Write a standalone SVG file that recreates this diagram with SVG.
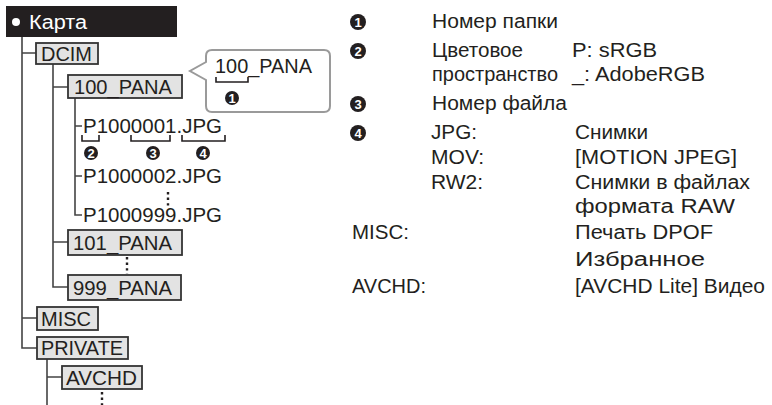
<svg xmlns="http://www.w3.org/2000/svg" width="772" height="405" viewBox="0 0 772 405">
<style>
  text { font-family: "Liberation Sans", Arial, sans-serif; font-size: 20px; fill: #231f20; }
  .box { fill: #e3e3e3; stroke: #333; stroke-width: 1.8; }
  .ln { fill: none; stroke: #444; stroke-width: 1.6; }
  .br { fill: none; stroke: #231f20; stroke-width: 1.6; }
  .dot { stroke: #231f20; stroke-width: 2.4; stroke-dasharray: 2.4 3.2; }
  .num { fill: #231f20; }
  .numt { font-family: "Liberation Sans", Arial, sans-serif; font-size: 13px; font-weight: bold; fill: #fff; text-anchor: middle; }
</style>
<rect width="772" height="405" fill="#fff"/>

<g id="connectors">
  <path class="ln" d="M22,37 V348 H37 M22,53 H36 M22,318 H37"/>
  <path class="ln" d="M53,64 V287 H68 M53,87 H68 M53,242 H68"/>
  <path class="ln" d="M75,98 V215 H82 M75,126 H82 M75,176 H82"/>
  <path class="ln" d="M47,359 V405 M47,377 H62"/>
  <line class="dot" x1="168" y1="192" x2="168" y2="207"/>
  <line class="dot" x1="127" y1="257" x2="127" y2="274"/>
  <line class="dot" x1="102" y1="392" x2="102" y2="405"/>
</g>

<g id="header">
  <rect x="6" y="6" width="171" height="31" fill="#231f20"/>
  <circle cx="16" cy="22" r="4" fill="#fff"/>
  <text x="29" y="29" textLength="58" lengthAdjust="spacingAndGlyphs" style="fill:#fff">Карта</text>
</g>

<g id="dcim">
  <rect class="box" x="36" y="43" width="62" height="21"/>
  <text x="41" y="61" textLength="51" lengthAdjust="spacingAndGlyphs">DCIM</text>
</g>
<g id="pana100">
  <rect class="box" x="68" y="75" width="114" height="23"/>
  <text x="74" y="94" textLength="98" lengthAdjust="spacingAndGlyphs">100_PANA</text>
</g>
<g id="file1">
  <text x="83" y="133" textLength="139" lengthAdjust="spacingAndGlyphs">P1000001.JPG</text>
  <path class="br" d="M82,135 V141 H99 V135 M131,135 V141 H170 V135 M182,135 V141 H225 V135"/>
  <circle class="num" cx="91" cy="153" r="7"/><text class="numt" x="91" y="157.5">2</text>
  <circle class="num" cx="153" cy="153" r="7"/><text class="numt" x="153" y="157.5">3</text>
  <circle class="num" cx="203" cy="153" r="7"/><text class="numt" x="203" y="157.5">4</text>
</g>
<g id="file2">
  <text x="83" y="183" textLength="139" lengthAdjust="spacingAndGlyphs">P1000002.JPG</text>
</g>
<g id="file999">
  <text x="83" y="222" textLength="139" lengthAdjust="spacingAndGlyphs">P1000999.JPG</text>
</g>
<g id="pana101">
  <rect class="box" x="68" y="230" width="114" height="25"/>
  <text x="73" y="250" textLength="99" lengthAdjust="spacingAndGlyphs">101_PANA</text>
</g>
<g id="pana999">
  <rect class="box" x="68" y="275" width="113" height="25"/>
  <text x="73" y="295" textLength="99" lengthAdjust="spacingAndGlyphs">999_PANA</text>
</g>
<g id="misc">
  <rect class="box" x="37" y="307" width="61" height="23"/>
  <text x="41" y="326" textLength="50" lengthAdjust="spacingAndGlyphs">MISC</text>
</g>
<g id="private">
  <rect class="box" x="37" y="337" width="91" height="22"/>
  <text x="41" y="355" textLength="82" lengthAdjust="spacingAndGlyphs">PRIVATE</text>
</g>
<g id="avchd">
  <rect class="box" x="62" y="366" width="80" height="23"/>
  <text x="66" y="385" textLength="71" lengthAdjust="spacingAndGlyphs">AVCHD</text>
</g>

<g id="callout">
  <path d="M212,50 H324 Q330,50 330,56 V106 Q330,112 324,112 H212 Q206,112 206,106 V80 L190,71 L206,62 V56 Q206,50 212,50 Z" fill="#fff" stroke="#9a9a9a" stroke-width="2"/>
  <text x="215" y="73" textLength="97" lengthAdjust="spacingAndGlyphs">100_PANA</text>
  <path class="br" d="M216,77 V82 H248 V77"/>
  <circle class="num" cx="232" cy="98" r="7"/><text class="numt" x="232" y="102.5">1</text>
</g>

<g id="legend">
  <circle class="num" cx="358" cy="22" r="8"/><text class="numt" x="358" y="26.5">1</text>
  <text x="432" y="28" textLength="126" lengthAdjust="spacingAndGlyphs">Номер папки</text>
  <circle class="num" cx="358" cy="51" r="8"/><text class="numt" x="358" y="55.5">2</text>
  <text x="432" y="57" textLength="91" lengthAdjust="spacingAndGlyphs">Цветовое</text>
  <text x="432" y="81" textLength="126" lengthAdjust="spacingAndGlyphs">пространство</text>
  <text x="572" y="57" textLength="85" lengthAdjust="spacingAndGlyphs">P: sRGB</text>
  <text x="572" y="81" textLength="133" lengthAdjust="spacingAndGlyphs">_: AdobeRGB</text>
  <circle class="num" cx="358" cy="104" r="8"/><text class="numt" x="358" y="108.5">3</text>
  <text x="432" y="110" textLength="135" lengthAdjust="spacingAndGlyphs">Номер файла</text>
  <circle class="num" cx="358" cy="133" r="8"/><text class="numt" x="358" y="137.5">4</text>
  <text x="431" y="139" textLength="46" lengthAdjust="spacingAndGlyphs">JPG:</text>
  <text x="575" y="139" textLength="73" lengthAdjust="spacingAndGlyphs">Снимки</text>
  <text x="431" y="164" textLength="53" lengthAdjust="spacingAndGlyphs">MOV:</text>
  <text x="575" y="164" textLength="162" lengthAdjust="spacingAndGlyphs">[MOTION JPEG]</text>
  <text x="431" y="189" textLength="52" lengthAdjust="spacingAndGlyphs">RW2:</text>
  <text x="575" y="189" textLength="175" lengthAdjust="spacingAndGlyphs">Снимки в файлах</text>
  <text x="575" y="213" textLength="160" lengthAdjust="spacingAndGlyphs">формата RAW</text>
  <text x="352" y="239" textLength="57" lengthAdjust="spacingAndGlyphs">MISC:</text>
  <text x="575" y="239" textLength="138" lengthAdjust="spacingAndGlyphs">Печать DPOF</text>
  <text x="575" y="266" textLength="130" lengthAdjust="spacingAndGlyphs">Избранное</text>
  <text x="352" y="293" textLength="74" lengthAdjust="spacingAndGlyphs">AVCHD:</text>
  <text x="575" y="293" textLength="190" lengthAdjust="spacingAndGlyphs">[AVCHD Lite] Видео</text>
</g>
</svg>
